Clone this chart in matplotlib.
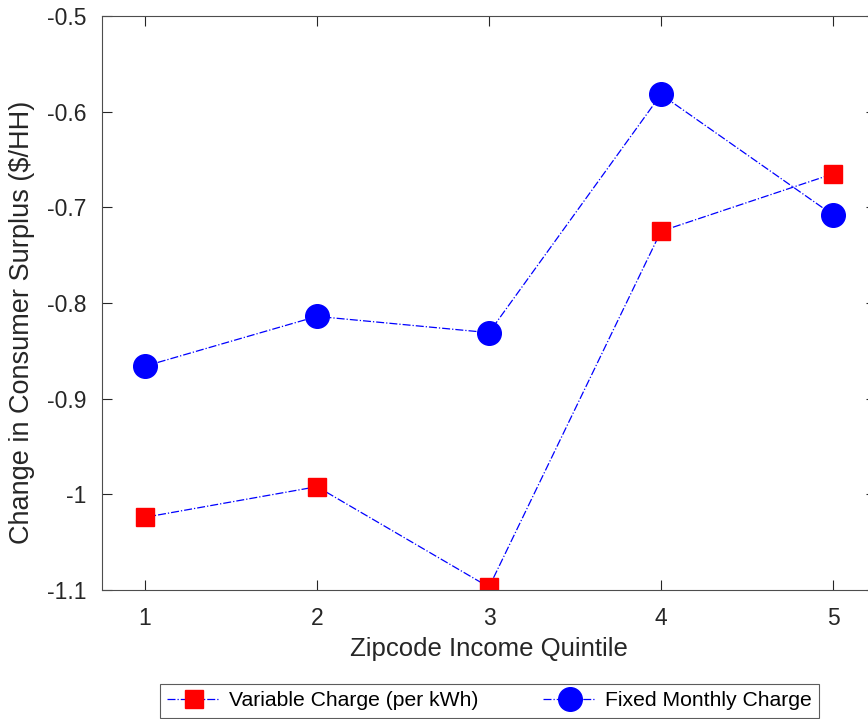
import matplotlib
matplotlib.use("Agg")
import matplotlib.pyplot as plt

quintiles = [1, 2, 3, 4, 5]
variable_charge = [-1.024, -0.992, -1.097, -0.725, -0.665]
fixed_charge = [-0.866, -0.814, -0.831, -0.582, -0.708]

plt.rcParams["font.family"] = ["Liberation Sans", "DejaVu Sans"]

fig = plt.figure(figsize=(8.68, 7.19), dpi=100)
# axes runs slightly past the right edge of the canvas
ax = fig.add_axes([102 / 868, 1 - 590 / 719, 774 / 868, 574 / 719])

ax.plot(quintiles, variable_charge, color="blue", lw=0.9, ls="-.",
        marker="s", ms=12.5, mfc="red", mec="red",
        label="Variable Charge (per kWh)")
ax.plot(quintiles, fixed_charge, color="blue", lw=0.9, ls="-.",
        marker="o", ms=17, mfc="blue", mec="blue",
        label="Fixed Monthly Charge")

ax.set_xlim(0.75, 5.25)
ax.set_ylim(-1.1, -0.5)
ax.set_xticks(quintiles)
ax.set_yticks([-1.1, -1.0, -0.9, -0.8, -0.7, -0.6, -0.5])
ax.set_yticklabels(["-1.1", "-1", "-0.9", "-0.8", "-0.7", "-0.6", "-0.5"])
ax.tick_params(direction="in", top=True, right=True, length=7, width=0.8,
               labelsize=16.5, colors="#262626")
ax.tick_params(axis="y", pad=11)
ax.tick_params(axis="x", pad=12)
for sp in ax.spines.values():
    sp.set_color("#4d4d4d")
    sp.set_linewidth(0.8)

ax.set_xlabel("Zipcode Income Quintile", fontsize=18.5, color="#262626", labelpad=5)
ax.set_ylabel("Change in Consumer Surplus ($/HH)", fontsize=19.5, color="#262626")
ax.yaxis.set_label_coords(-0.086, 0.467)

leg = fig.legend(loc="upper left", bbox_to_anchor=(160 / 868, 1 - 684 / 719), ncol=2,
                 fontsize=15.2, frameon=True, fancybox=False, edgecolor="#333333",
                 borderpad=0.35, handlelength=2.5, columnspacing=3.1,
                 handletextpad=0.4, borderaxespad=0)
leg.get_frame().set_linewidth(0.8)

fig.savefig("out.png", dpi=100)
